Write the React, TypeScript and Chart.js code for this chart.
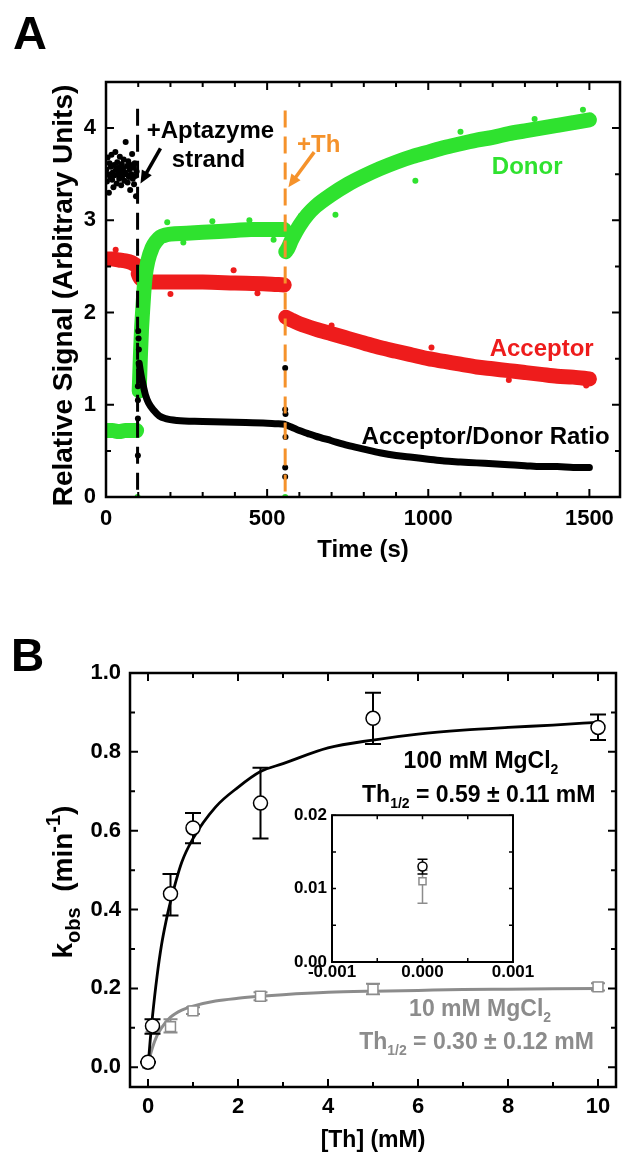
import React, { useEffect, useRef } from 'react';
import { Chart, registerables } from 'chart.js';

Chart.register(...registerables);

const FAM = '"Liberation Sans", Arial, Helvetica, sans-serif';
const GREEN = '#2fe22f';
const RED = '#ee1c1c';
const ORANGE = '#f5922b';
const GRAY = '#8c8c8c';

// ---------------- Panel A: axes ----------------
const A_X_MAJOR = [0, 500, 1000, 1500];
const A_X_LABELS = ['0', '500', '1000', '1500'];
const A_X_MINOR = [100, 200, 300, 400, 600, 700, 800, 900, 1100, 1200, 1300, 1400];
const A_Y_MAJOR = [0, 1, 2, 3, 4];
const A_Y_LABELS = ['0', '1', '2', '3', '4'];
const A_Y_MINOR = [0.5, 1.5, 2.5, 3.5];

// ---------------- Panel A: series (time in s) ----------------
const DONOR_T = [0, 20, 40, 60, 80, 95, 97, 103, 105, 107, 110, 113, 117, 122, 130, 143, 155, 169, 185, 200, 250, 300, 350, 400, 450, 500, 553, 555, 558, 565, 575, 590, 600, 625, 650, 700, 750, 800, 850, 900, 950, 1000, 1050, 1100, 1150, 1200, 1250, 1300, 1350, 1400, 1450, 1500];
const DONOR_V = [0.72, 0.72, 0.71, 0.72, 0.72, 0.72, null, 1.15, 1.35, 1.55, 1.8, 1.98, 2.2, 2.4, 2.56, 2.7, 2.77, 2.82, 2.84, 2.85, 2.86, 2.87, 2.88, 2.89, 2.9, 2.9, 2.9, null, 2.66, 2.7, 2.78, 2.88, 2.94, 3.06, 3.15, 3.28, 3.39, 3.48, 3.56, 3.63, 3.69, 3.74, 3.79, 3.83, 3.87, 3.9, 3.94, 3.97, 4.0, 4.03, 4.06, 4.09];
const DONOR_OUT_T = [104, 106, 190, 240, 330, 445, 520, 605, 712, 960, 1100, 1330, 1480];
const DONOR_OUT_V = [1.45, 1.72, 2.98, 2.76, 2.99, 3.0, 2.79, 3.05, 3.06, 3.43, 3.96, 4.1, 4.2];
const DONOR_ZERO_T = [98, 556];
const DONOR_ZERO_V = [0, 0];

const ACC_T = [0, 20, 40, 60, 80, 95, 97, 100, 105, 110, 120, 150, 200, 300, 400, 500, 553, 555, 558, 575, 600, 650, 700, 750, 800, 850, 900, 950, 1000, 1050, 1100, 1150, 1200, 1250, 1300, 1350, 1400, 1450, 1500];
const ACC_V = [2.58, 2.58, 2.57, 2.56, 2.54, 2.51, null, 2.42, 2.38, 2.36, 2.34, 2.33, 2.33, 2.33, 2.32, 2.31, 2.3, null, 1.95, 1.92, 1.88, 1.82, 1.77, 1.72, 1.67, 1.62, 1.58, 1.54, 1.5, 1.47, 1.44, 1.41, 1.39, 1.37, 1.35, 1.33, 1.31, 1.3, 1.28];
const ACC_OUT_T = [30, 105, 200, 396, 470, 700, 1010, 1250, 1490];
const ACC_OUT_V = [2.68, 2.47, 2.2, 2.46, 2.21, 1.86, 1.62, 1.27, 1.21];

const RATIO_PRE_T = [1, 3, 5, 7, 9, 11, 13, 15, 17, 19, 21, 23, 25, 27, 29, 31, 33, 35, 37, 39, 41, 43, 45, 47, 49, 51, 53, 55, 57, 59, 61, 63, 65, 67, 69, 71, 73, 75, 77, 79, 81, 83, 85, 87, 89, 91, 93, 95];
const RATIO_PRE_V = [3.55, 3.42, 3.68, 3.5, 3.3, 3.62, 3.47, 3.58, 3.71, 3.44, 3.52, 3.36, 3.6, 3.49, 3.74, 3.55, 3.4, 3.63, 3.5, 3.57, 3.45, 3.69, 3.53, 3.38, 3.61, 3.48, 3.56, 3.66, 3.43, 3.52, 3.85, 3.5, 3.59, 3.41, 3.64, 3.47, 3.55, 3.33, 3.6, 3.5, 3.72, 3.45, 3.57, 3.39, 3.62, 3.48, 3.26, 3.53];
const RATIO_T = [103, 106, 110, 116, 123, 132, 148, 165, 185, 220, 300, 400, 500, 553, 555, 560, 575, 600, 625, 650, 700, 750, 800, 850, 900, 950, 1000, 1050, 1100, 1150, 1200, 1250, 1300, 1350, 1400, 1450, 1500];
const RATIO_V = [1.45, 1.38, 1.3, 1.2, 1.1, 1.02, 0.94, 0.88, 0.85, 0.83, 0.82, 0.81, 0.8, 0.79, null, 0.78, 0.76, 0.72, 0.69, 0.66, 0.61, 0.56, 0.52, 0.48, 0.45, 0.43, 0.41, 0.39, 0.38, 0.37, 0.36, 0.35, 0.34, 0.33, 0.33, 0.32, 0.32];
const RATIO_SPIKE_T = [99, 99, 99, 99, 100, 101, 102, 556, 556, 557, 557, 556, 556];
const RATIO_SPIKE_V = [0.45, 0.85, 1.05, 1.2, 1.8, 1.72, 1.6, 1.4, 0.95, 0.9, 0.65, 0.32, 0.22];

const EVENT_T = [98, 556]; // +Aptazyme strand, +Th
const EVENT_TOP = [4.21, 4.19];

// ---------------- Panel B ----------------
const B_X_MAJOR = [0, 2, 4, 6, 8, 10];
const B_X_LABELS = ['0', '2', '4', '6', '8', '10'];
const B_X_MINOR = [1, 3, 5, 7, 9];
const B_Y_MAJOR = [0, 0.2, 0.4, 0.6, 0.8, 1.0];
const B_Y_LABELS = ['0.0', '0.2', '0.4', '0.6', '0.8', '1.0'];
const B_Y_MINOR = [0.1, 0.3, 0.5, 0.7, 0.9];

const MG100_X = [0, 0.1, 0.5, 1, 2.5, 5, 10];
const MG100_Y = [0.013, 0.105, 0.44, 0.607, 0.67, 0.885, 0.862];
const MG100_LO = [0.012, 0.085, 0.385, 0.568, 0.58, 0.82, 0.83];
const MG100_HI = [0.014, 0.122, 0.49, 0.645, 0.76, 0.95, 0.895];

const MG10_X = [0, 0.1, 0.5, 1, 2.5, 5, 10];
const MG10_Y = [0.011, 0.1, 0.103, 0.143, 0.18, 0.198, 0.204];
const MG10_LO = [0.008, 0.09, 0.088, 0.135, 0.17, 0.185, 0.195];
const MG10_HI = [0.0125, 0.11, 0.122, 0.152, 0.19, 0.212, 0.213];

const FIT100_X = [0, 0.05, 0.1, 0.2, 0.3, 0.4, 0.5, 0.75, 1, 1.5, 2, 2.5, 3, 4, 5, 6, 7, 8, 9, 10];
const FIT100_Y = [0, 0.07, 0.13, 0.23, 0.31, 0.37, 0.42, 0.52, 0.58, 0.66, 0.71, 0.75, 0.77, 0.81, 0.83, 0.845, 0.855, 0.862, 0.868, 0.875];
const FIT10_X = [0, 0.05, 0.1, 0.2, 0.3, 0.5, 0.75, 1, 1.5, 2, 2.5, 3, 4, 5, 6, 7, 8, 9, 10];
const FIT10_Y = [0, 0.03, 0.05, 0.08, 0.1, 0.127, 0.145, 0.155, 0.168, 0.175, 0.18, 0.184, 0.19, 0.193, 0.195, 0.197, 0.198, 0.199, 0.2];

const INSET_X_MAJOR = [-0.001, 0, 0.001];
const INSET_X_LABELS = ['-0.001', '0.000', '0.001'];
const INSET_X_MINOR = [-0.0005, 0.0005];
const INSET_Y_MAJOR = [0, 0.01, 0.02];
const INSET_Y_LABELS = ['0.00', '0.01', '0.02'];
const INSET_Y_MINOR = [0.005, 0.015];

// ---------------- helpers ----------------
type Part = { t: string; s?: 'sub' | 'sup' };

const pts = (xs: number[], ys: (number | null)[]) => xs.map((x, i) => ({ x, y: ys[i] }));

function drawRich(ctx: CanvasRenderingContext2D, parts: Part[], x: number, y: number, size: number, color: string, align = 'center', small = 0.62) {
  const big = `bold ${size}px ${FAM}`;
  const sm = `bold ${Math.round(size * small)}px ${FAM}`;
  let w = 0;
  for (const p of parts) { ctx.font = p.s ? sm : big; w += ctx.measureText(p.t).width; }
  let cx = align === 'center' ? x - w / 2 : align === 'right' ? x - w : x;
  ctx.fillStyle = color;
  ctx.textAlign = 'left';
  ctx.textBaseline = 'alphabetic';
  for (const p of parts) {
    ctx.font = p.s ? sm : big;
    const dy = p.s === 'sub' ? size * 0.28 : p.s === 'sup' ? -size * 0.42 : 0;
    ctx.fillText(p.t, cx, y + dy);
    cx += ctx.measureText(p.t).width;
  }
}

function drawArrow(ctx: CanvasRenderingContext2D, x1: number, y1: number, x2: number, y2: number, color: string, w: number, head: number) {
  const ang = Math.atan2(y2 - y1, x2 - x1);
  ctx.strokeStyle = color;
  ctx.fillStyle = color;
  ctx.lineWidth = w;
  ctx.lineCap = 'butt';
  ctx.beginPath();
  ctx.moveTo(x1, y1);
  ctx.lineTo(x2 - Math.cos(ang) * head * 0.7, y2 - Math.sin(ang) * head * 0.7);
  ctx.stroke();
  ctx.beginPath();
  ctx.moveTo(x2, y2);
  ctx.lineTo(x2 - head * Math.cos(ang - 0.42), y2 - head * Math.sin(ang - 0.42));
  ctx.lineTo(x2 - head * Math.cos(ang + 0.42), y2 - head * Math.sin(ang + 0.42));
  ctx.closePath();
  ctx.fill();
}

function axis(min: number, max: number, major: number[], labels: string[], fit: (s: any) => void, size: number, padding: number) {
  return {
    type: 'linear',
    min,
    max,
    grid: { display: false, drawTicks: false },
    border: { display: false },
    afterBuildTicks: (s: any) => { s.ticks = major.map((v) => ({ value: v })); },
    afterFit: fit,
    ticks: {
      autoSkip: false,
      maxRotation: 0,
      minRotation: 0,
      padding,
      color: '#000',
      font: { family: FAM, size, weight: 'bold' },
      callback: (_v: any, i: number) => labels[i],
    },
  };
}

function framePlugin(o: any) {
  return {
    id: 'frame',
    afterDatasetsDraw(chart: any) {
      const { ctx, chartArea: a } = chart;
      const xs = chart.scales.x;
      const ys = chart.scales.y;
      ctx.save();
      ctx.strokeStyle = '#000';
      ctx.lineWidth = o.tickWidth;
      const tx = (vals: number[], len: number) => vals.forEach((v) => {
        const p = xs.getPixelForValue(v);
        ctx.beginPath();
        ctx.moveTo(p, a.bottom); ctx.lineTo(p, a.bottom - len);
        ctx.moveTo(p, a.top); ctx.lineTo(p, a.top + len);
        ctx.stroke();
      });
      const ty = (vals: number[], len: number) => vals.forEach((v) => {
        const p = ys.getPixelForValue(v);
        ctx.beginPath();
        ctx.moveTo(a.left, p); ctx.lineTo(a.left + len, p);
        ctx.moveTo(a.right, p); ctx.lineTo(a.right - len, p);
        ctx.stroke();
      });
      tx(o.xMajor, o.major); tx(o.xMinor, o.minor);
      ty(o.yMajor, o.major); ty(o.yMinor, o.minor);
      ctx.lineWidth = o.frameWidth;
      ctx.strokeRect(a.left, a.top, a.right - a.left, a.bottom - a.top);
      ctx.restore();
    },
  };
}

function errorBarPlugin(capMap: Record<number, number>, lw: number) {
  return {
    id: 'errbars',
    beforeDatasetDraw(chart: any, args: any) {
      const ds = chart.data.datasets[args.index];
      if (!ds.errLo) return;
      const { ctx } = chart;
      const xs = chart.scales.x;
      const ys = chart.scales.y;
      const cap = capMap[args.index] || 6;
      ctx.save();
      ctx.strokeStyle = ds.borderColor;
      ctx.lineWidth = lw;
      ds.data.forEach((d: any, i: number) => {
        const px = xs.getPixelForValue(d.x);
        const lo = ys.getPixelForValue(ds.errLo[i]);
        const hi = ys.getPixelForValue(ds.errHi[i]);
        ctx.beginPath();
        ctx.moveTo(px, lo); ctx.lineTo(px, hi);
        ctx.moveTo(px - cap, lo); ctx.lineTo(px + cap, lo);
        ctx.moveTo(px - cap, hi); ctx.lineTo(px + cap, hi);
        ctx.stroke();
      });
      ctx.restore();
    },
  };
}

const baseOpts = {
  responsive: false,
  animation: false,
  devicePixelRatio: 1,
  events: [],
};

// ---------------- Panel A config ----------------
function configA(): any {
  const band = (xs: number[], ys: (number | null)[], color: string, width: number, order: number) => ({
    data: pts(xs, ys), showLine: true, borderColor: color, backgroundColor: color, borderWidth: width,
    borderCapStyle: 'round', borderJoinStyle: 'round', pointRadius: 0, cubicInterpolationMode: 'monotone',
    spanGaps: false, order, clip: 0,
  });
  const dots = (xs: number[], ys: number[], color: string, r: number, order: number) => ({
    data: pts(xs, ys), showLine: false, pointRadius: r, pointBorderWidth: 0, backgroundColor: color,
    borderColor: color, order, clip: 0,
  });
  const event = (i: number, color: string) => ({
    data: [{ x: EVENT_T[i], y: EVENT_TOP[i] }, { x: EVENT_T[i], y: 0 }], showLine: true, borderColor: color,
    borderWidth: 3, borderDash: [17, 9], pointRadius: 0, order: 0, clip: 0,
  });
  const notes = (chart: any) => {
    const { ctx } = chart;
    const xs = chart.scales.x;
    const ys = chart.scales.y;
    ctx.save();
    const T = (txt: string, t: number, v: number, color: string, size = 24) =>
      drawRich(ctx, [{ t: txt }], xs.getPixelForValue(t), ys.getPixelForValue(v) + size * 0.36, size, color);
    T('+Aptazyme', 324, 3.99, '#000');
    T('strand', 318, 3.67, '#000');
    T('+Th', 660, 3.84, ORANGE);
    T('Donor', 1307, 3.6, GREEN);
    T('Acceptor', 1352, 1.62, RED);
    T('Acceptor/Donor Ratio', 1178, 0.667, '#000');
    drawArrow(ctx, xs.getPixelForValue(169), ys.getPixelForValue(3.78), xs.getPixelForValue(107), ys.getPixelForValue(3.4), '#000', 3.5, 14);
    drawArrow(ctx, xs.getPixelForValue(646), ys.getPixelForValue(3.74), xs.getPixelForValue(566), ys.getPixelForValue(3.36), ORANGE, 3.5, 14);
    // axis titles & panel letter
    const a = chart.chartArea;
    drawRich(ctx, [{ t: 'Time (s)' }], (a.left + a.right) / 2, 557, 24, '#000');
    ctx.save();
    ctx.translate(72, (a.top + a.bottom) / 2 + 6);
    ctx.rotate(-Math.PI / 2);
    drawRich(ctx, [{ t: 'Relative Signal (Arbitrary Units)' }], 0, 0, 28, '#000');
    ctx.restore();
    drawRich(ctx, [{ t: 'A' }], 13, 49, 47, '#000', 'left');
    ctx.restore();
  };
  return {
    type: 'scatter',
    data: {
      datasets: [
        event(0, '#000'),
        event(1, ORANGE),
        dots(RATIO_SPIKE_T, RATIO_SPIKE_V, '#000', 3, 1),
        dots(RATIO_PRE_T, RATIO_PRE_V, '#000', 3, 1),
        band(RATIO_T, RATIO_V, '#000', 7, 2),
        dots(DONOR_ZERO_T, DONOR_ZERO_V, GREEN, 3, 3),
        band(DONOR_T, DONOR_V, GREEN, 15, 4),
        dots(DONOR_OUT_T, DONOR_OUT_V, GREEN, 3, 4),
        band(ACC_T, ACC_V, RED, 15, 5),
        dots(ACC_OUT_T, ACC_OUT_V, RED, 3, 5),
      ],
    },
    options: {
      ...baseOpts,
      layout: { padding: { left: 0, top: 82, right: 21, bottom: 0 } },
      plugins: { legend: { display: false }, tooltip: { enabled: false } },
      scales: {
        x: axis(0, 1595, A_X_MAJOR, A_X_LABELS, (s: any) => { s.height = 83; }, 22, 9),
        y: axis(0, 4.5, A_Y_MAJOR, A_Y_LABELS, (s: any) => { s.width = 106; }, 22, 10),
      },
    },
    plugins: [
      framePlugin({ xMajor: A_X_MAJOR, xMinor: A_X_MINOR, yMajor: A_Y_MAJOR, yMinor: A_Y_MINOR, major: 8, minor: 5, tickWidth: 2, frameWidth: 2.5 }),
      { id: 'notesA', afterDraw: notes },
    ],
  };
}

// ---------------- Panel B config ----------------
function configB(): any {
  const notes = (chart: any) => {
    const { ctx } = chart;
    const xs = chart.scales.x;
    const ys = chart.scales.y;
    const a = chart.chartArea;
    ctx.save();
    const size = 23;
    const R = (parts: Part[], x: number, v: number, color: string) =>
      drawRich(ctx, parts, xs.getPixelForValue(x), ys.getPixelForValue(v) + size * 0.36, size, color);
    R([{ t: '100 mM MgCl' }, { t: '2', s: 'sub' }], 7.4, 0.78, '#000');
    R([{ t: 'Th' }, { t: '1/2', s: 'sub' }, { t: ' = 0.59 ± 0.11 mM' }], 7.35, 0.695, '#000');
    R([{ t: '10 mM MgCl' }, { t: '2', s: 'sub' }], 7.38, 0.152, GRAY);
    R([{ t: 'Th' }, { t: '1/2', s: 'sub' }, { t: ' = 0.30 ± 0.12 mM' }], 7.3, 0.068, GRAY);
    drawRich(ctx, [{ t: '[Th] (mM)' }], (a.left + a.right) / 2, 567, 23, '#000');
    ctx.save();
    ctx.translate(72, (a.top + a.bottom) / 2 + 2);
    ctx.rotate(-Math.PI / 2);
    drawRich(ctx, [{ t: 'k' }, { t: 'obs', s: 'sub' }, { t: '  (min' }, { t: '-1', s: 'sup' }, { t: ')' }], 0, 0, 28, '#000', 'center', 0.72);
    ctx.restore();
    drawRich(ctx, [{ t: 'B' }], 11, 91, 46, '#000', 'left');
    ctx.restore();
  };
  return {
    type: 'scatter',
    data: {
      datasets: [
        { data: pts(MG100_X, MG100_Y), errLo: MG100_LO, errHi: MG100_HI, pointStyle: 'circle', pointRadius: 7, pointBorderWidth: 1.5, borderColor: '#000', backgroundColor: '#fff', order: 1 },
        { data: pts(MG10_X, MG10_Y), errLo: MG10_LO, errHi: MG10_HI, pointStyle: 'rect', pointRadius: 7, pointBorderWidth: 1.5, borderColor: GRAY, backgroundColor: '#fff', order: 2 },
        { data: pts(FIT100_X, FIT100_Y), showLine: true, borderColor: '#000', borderWidth: 2.8, pointRadius: 0, cubicInterpolationMode: 'monotone', order: 3 },
        { data: pts(FIT10_X, FIT10_Y), showLine: true, borderColor: GRAY, borderWidth: 3, pointRadius: 0, cubicInterpolationMode: 'monotone', order: 4 },
      ],
    },
    options: {
      ...baseOpts,
      layout: { padding: { left: 0, top: 93, right: 25, bottom: 0 } },
      plugins: { legend: { display: false }, tooltip: { enabled: false } },
      scales: {
        x: axis(-0.4, 10.4, B_X_MAJOR, B_X_LABELS, (s: any) => { s.height = 70; }, 22, 7),
        y: axis(-0.05, 1.0, B_Y_MAJOR, B_Y_LABELS, (s: any) => { s.width = 130; }, 22, 9),
      },
    },
    plugins: [
      errorBarPlugin({ 0: 8, 1: 7 }, 2),
      framePlugin({ xMajor: B_X_MAJOR, xMinor: B_X_MINOR, yMajor: B_Y_MAJOR, yMinor: B_Y_MINOR, major: 8, minor: 5, tickWidth: 2, frameWidth: 2.5 }),
      { id: 'notesB', afterDraw: notes },
    ],
  };
}

// ---------------- Inset config ----------------
function configInset(): any {
  const pick = (xs: number[], arr: number[]) => xs.map((x, i) => (x === 0 ? arr[i] : null)).filter((v) => v !== null) as number[];
  const zeroX = (xs: number[]) => xs.filter((x) => x === 0);
  return {
    type: 'scatter',
    data: {
      datasets: [
        { data: pts(zeroX(MG100_X), pick(MG100_X, MG100_Y)), errLo: pick(MG100_X, MG100_LO), errHi: pick(MG100_X, MG100_HI), pointStyle: 'circle', pointRadius: 4.5, pointBorderWidth: 1.5, borderColor: '#000', backgroundColor: '#fff', order: 1 },
        { data: pts(zeroX(MG10_X), pick(MG10_X, MG10_Y)), errLo: pick(MG10_X, MG10_LO), errHi: pick(MG10_X, MG10_HI), pointStyle: 'rect', pointRadius: 5, pointBorderWidth: 1.5, borderColor: GRAY, backgroundColor: '#fff', order: 2 },
      ],
    },
    options: {
      ...baseOpts,
      layout: { padding: { left: 0, top: 14, right: 47, bottom: 0 } },
      plugins: { legend: { display: false }, tooltip: { enabled: false } },
      scales: {
        x: axis(-0.001, 0.001, INSET_X_MAJOR, INSET_X_LABELS, (s: any) => { s.height = 28; }, 17, 0),
        y: axis(0, 0.02, INSET_Y_MAJOR, INSET_Y_LABELS, (s: any) => { s.width = 62; }, 17, 5),
      },
    },
    plugins: [
      errorBarPlugin({ 0: 5, 1: 5 }, 1.5),
      framePlugin({ xMajor: INSET_X_MAJOR, xMinor: INSET_X_MINOR, yMajor: INSET_Y_MAJOR, yMinor: INSET_Y_MINOR, major: 4, minor: 4, tickWidth: 1.5, frameWidth: 2 }),
    ],
  };
}

export default function App() {
  const aRef = useRef<HTMLCanvasElement>(null);
  const bRef = useRef<HTMLCanvasElement>(null);
  const iRef = useRef<HTMLCanvasElement>(null);
  useEffect(() => {
    const charts = [
      new Chart(aRef.current as HTMLCanvasElement, configA()),
      new Chart(bRef.current as HTMLCanvasElement, configB()),
      new Chart(iRef.current as HTMLCanvasElement, configInset()),
    ];
    return () => charts.forEach((c) => c.destroy());
  }, []);
  return (
    <div style={{ position: 'absolute', left: 0, top: 0, width: 641, height: 1157, background: '#fff', overflow: 'hidden' }}>
      <canvas ref={aRef} width={641} height={580} style={{ position: 'absolute', left: 0, top: 0 }} />
      <canvas ref={bRef} width={641} height={577} style={{ position: 'absolute', left: 0, top: 580 }} />
      <canvas ref={iRef} width={290} height={190} style={{ position: 'absolute', left: 270, top: 800 }} />
    </div>
  );
}
